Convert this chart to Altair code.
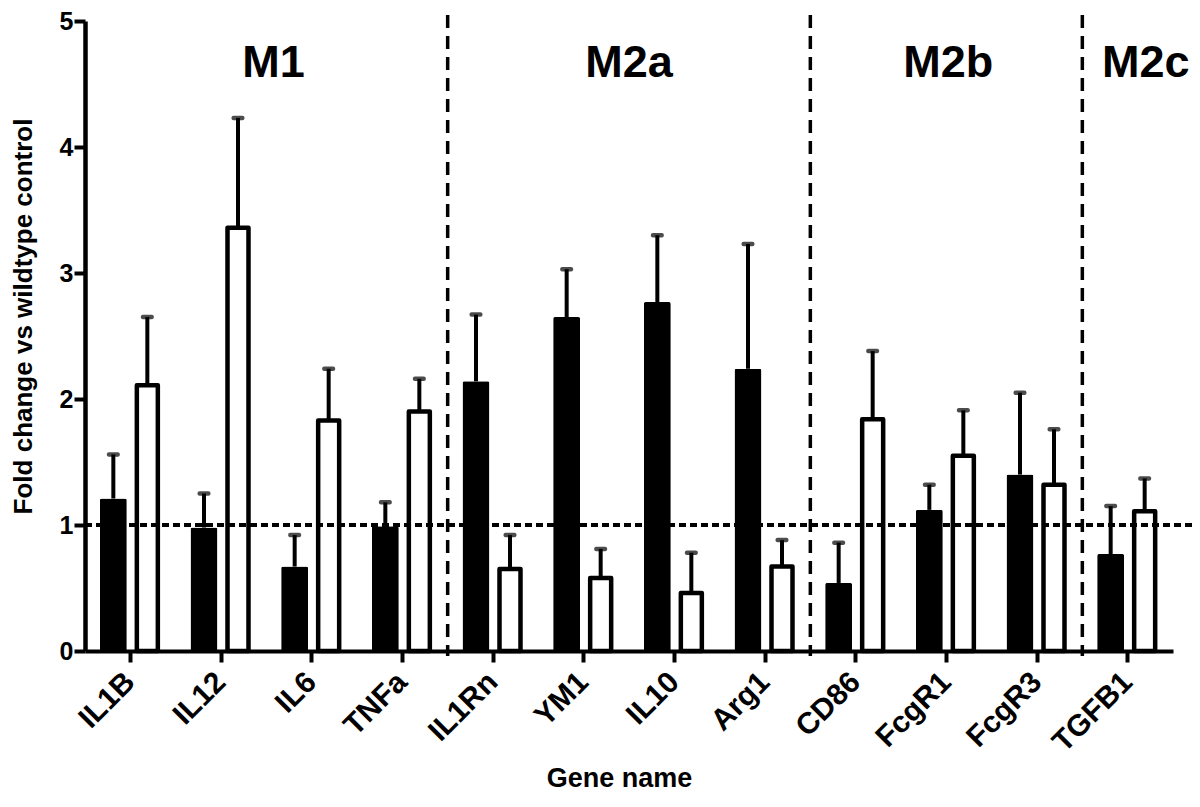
import altair as alt
import pandas as pd

# ---- data ----
genes = ["IL1B", "IL12", "IL6", "TNFa", "IL1Rn", "YM1", "IL10", "Arg1",
         "CD86", "FcgR1", "FcgR3", "TGFB1"]
filled_mean = [1.21, 0.98, 0.67, 0.99, 2.14, 2.65, 2.77, 2.24, 0.54, 1.12, 1.40, 0.77]
filled_sem = [0.35, 0.27, 0.25, 0.19, 0.53, 0.38, 0.53, 0.99, 0.32, 0.20, 0.65, 0.38]
open_mean = [2.11, 3.36, 1.83, 1.90, 0.65, 0.58, 0.46, 0.67, 1.84, 1.55, 1.32, 1.11]
open_sem = [0.54, 0.87, 0.41, 0.26, 0.27, 0.23, 0.32, 0.21, 0.54, 0.36, 0.44, 0.26]
group_labels = ["M1", "M2a", "M2b", "M2c"]
group_anchor = ["IL6", "IL10", "FcgR1", "TGFB1"]
group_band_pos = [0.08, 0.0, 0.52, 0.70]
divider_genes = ["IL1Rn", "CD86", "TGFB1"]
reference_level = [1]

FONT = "Liberation Sans"
W, H = 1088, 630

df_f = pd.DataFrame({"gene": genes, "value": filled_mean,
                     "upper": [m + s for m, s in zip(filled_mean, filled_sem)]})
df_o = pd.DataFrame({"gene": genes, "value": open_mean,
                     "upper": [m + s for m, s in zip(open_mean, open_sem)]})

xscale = alt.Scale(domain=genes, paddingInner=0, paddingOuter=0)
yscale = alt.Scale(domain=[0, 5], nice=False)
x_axis = alt.Axis(
    title="Gene name", labelAngle=-45, labelAlign="right", labelBaseline="middle",
    labelFontSize=30, labelFontWeight="bold", labelPadding=15, labelOverlap=False,
    labelColor="black", tickSize=11, tickWidth=4, tickColor="black",
    domainWidth=4, domainColor="black", titleFontSize=27, titleFontWeight="bold",
    titleX=534, titleY=135, titleBaseline="alphabetic", titleColor="black",
)
y_axis = alt.Axis(
    title="Fold change vs wildtype control", values=[0, 1, 2, 3, 4, 5], format="d",
    labelFontSize=25, labelFontWeight="bold", labelPadding=1, labelColor="black",
    tickSize=11, tickWidth=4, tickColor="black", domainWidth=4.5, domainColor="black",
    grid=False, titleFontSize=26, titleFontWeight="bold", titleX=-54, titleY=295,
    titleBaseline="alphabetic", titleColor="black",
)
X = alt.X("gene:N", scale=xscale, axis=x_axis, sort=genes)
Y = alt.Y("value:Q", scale=yscale, axis=y_axis)
YU = alt.Y("upper:Q", scale=yscale, axis=y_axis)

OFF = 17

f_err = alt.Chart(df_f).mark_rule(xOffset=-OFF, strokeWidth=4, color="black").encode(
    x=X, y=Y, y2="upper:Q")
f_cap = alt.Chart(df_f).mark_tick(xOffset=-OFF, size=13, thickness=4.5, color="black",
                                  orient="horizontal", cornerRadius=2).encode(x=X, y=YU)
f_bar = alt.Chart(df_f).mark_bar(width=27, xOffset=-OFF, color="black",
                                 cornerRadiusTopLeft=2, cornerRadiusTopRight=2).encode(x=X, y=Y)

o_err = alt.Chart(df_o).mark_rule(xOffset=OFF, strokeWidth=4, color="black").encode(
    x=X, y=Y, y2="upper:Q")
o_cap = alt.Chart(df_o).mark_tick(xOffset=OFF, size=13, thickness=4.5, color="black",
                                  orient="horizontal", cornerRadius=2).encode(x=X, y=YU)
o_bar = alt.Chart(df_o).mark_bar(width=21, xOffset=OFF, fill="white", stroke="black",
                                 strokeWidth=4.5, strokeJoin="round").encode(x=X, y=Y)

hline = alt.Chart(pd.DataFrame({"y": reference_level})).mark_rule(
    strokeDash=[7, 4], strokeWidth=4, color="black").encode(
    y=alt.Y("y:Q", scale=yscale, axis=y_axis), x=alt.value(0), x2=alt.value(W + 20))

vlines = alt.Chart(pd.DataFrame({"gene": divider_genes})).mark_rule(
    strokeDash=[13, 8], strokeWidth=3.5, color="black").encode(
    x=alt.X("gene:N", bandPosition=0, sort=genes, scale=xscale, axis=x_axis),
    y=alt.value(-6), y2=alt.value(H + 5))

labels = []
for lab, g, bp in zip(group_labels, group_anchor, group_band_pos):
    labels.append(
        alt.Chart(pd.DataFrame({"gene": [g], "label": [lab]})).mark_text(
            font=FONT, fontSize=45, fontWeight="bold", baseline="alphabetic",
            align="center", color="black").encode(
            x=alt.X("gene:N", bandPosition=bp, sort=genes, scale=xscale, axis=x_axis),
            y=alt.value(56), text="label:N"))

chart = alt.layer(
    o_err, o_cap, f_err, f_cap, f_bar, o_bar, vlines, hline, *labels
).properties(
    width=W, height=H,
    autosize=alt.AutoSizeParams(type="none"),
    padding={"left": 77, "top": 13, "right": 19, "bottom": 148},
).configure(font=FONT).configure_view(stroke=None)

chart.save("out.html", embed_options={"renderer": "svg", "actions": False})
